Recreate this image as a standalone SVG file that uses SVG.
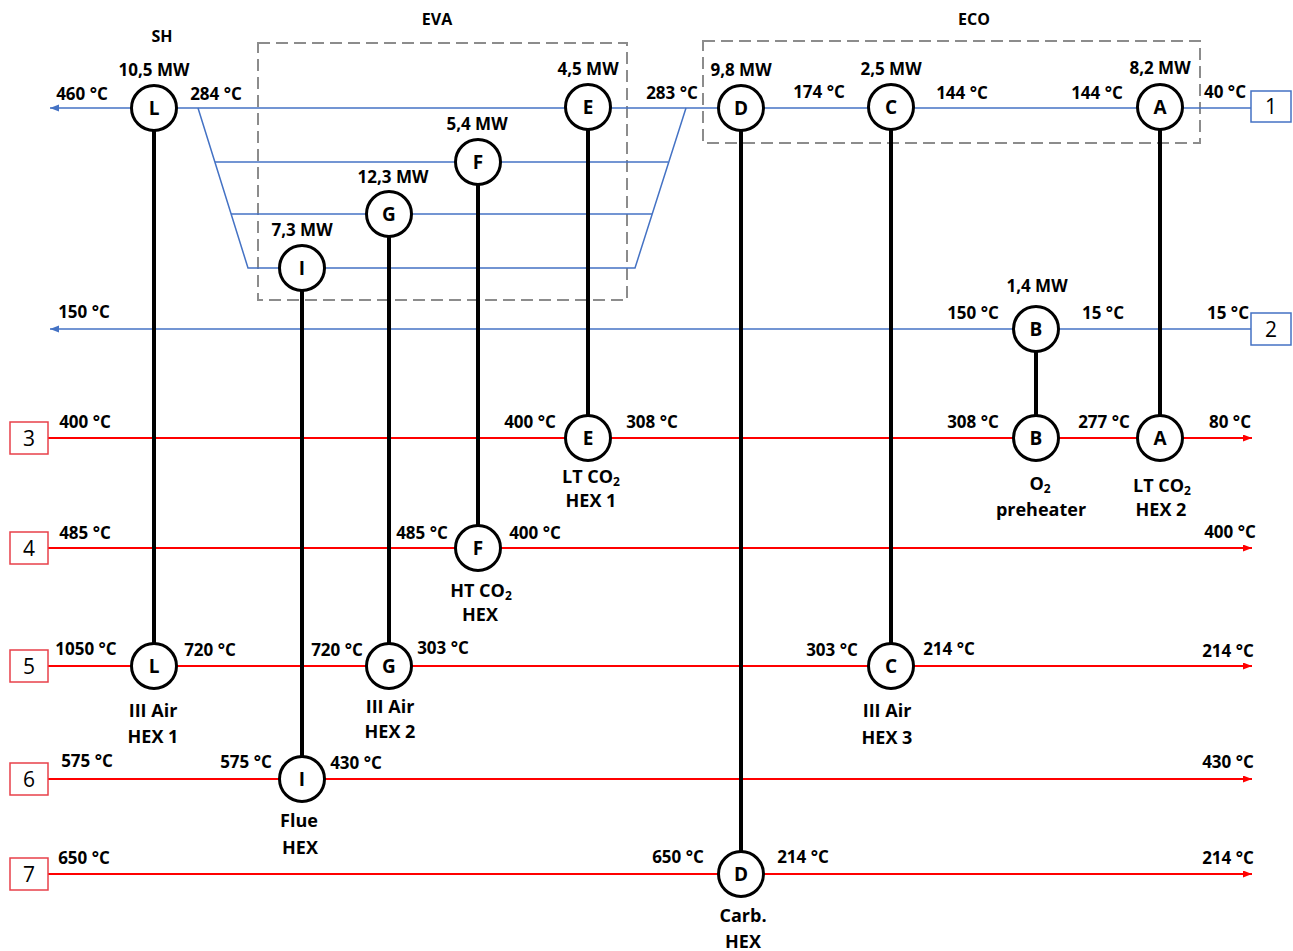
<svg xmlns="http://www.w3.org/2000/svg" width="1293" height="951" viewBox="0 0 1293 951">
<style>
text{font-family:"Open Sans","Liberation Sans",sans-serif;fill:#000;text-anchor:middle}
.t{font-size:17px;font-weight:700}
.h{font-size:16px;font-weight:700}
.n{font-size:18px;font-weight:700}
.c{font-size:19px;font-weight:700}
.b{font-size:21px;font-weight:400}
.blue{stroke:#4472C4;stroke-width:1.5;fill:none}
.red{stroke:#FF0000;stroke-width:2;fill:none}
.bk{stroke:#000;stroke-width:4;fill:none}
.hx{fill:#fff;stroke:#000;stroke-width:3}
.dash{fill:none;stroke:#8C8C8C;stroke-width:2;stroke-dasharray:12 6}
.bbox{fill:#fff;stroke:#4472C4;stroke-width:1.5}
.rbox{fill:#fff;stroke:#E8404A;stroke-width:1.5}
</style>
<defs>
<marker id="ab" markerUnits="userSpaceOnUse" markerWidth="10" markerHeight="8" refX="9" refY="3.5" orient="auto"><path d="M0,0 L9,3.5 L0,7 z" fill="#4472C4"/></marker>
<marker id="ar" markerUnits="userSpaceOnUse" markerWidth="10" markerHeight="8" refX="9" refY="3.5" orient="auto"><path d="M0,0 L9,3.5 L0,7 z" fill="#FF0000"/></marker>
</defs>
<rect width="1293" height="951" fill="#fff"/>

<g id="zones">
<rect class="dash" x="258" y="43" width="369" height="257"/>
<rect class="dash" x="703" y="41" width="497" height="102"/>
<text class="h" x="162" y="42">SH</text>
<text class="h" x="437" y="25">EVA</text>
<text class="h" x="974" y="25">ECO</text>
</g>

<g id="connectors">
<line class="blue" x1="1251" y1="108" x2="50" y2="108" marker-end="url(#ab)"/>
<polyline class="blue" points="198,108 248,268 635,268 686,108"/>
<line class="blue" x1="215" y1="162" x2="668" y2="162"/>
<line class="blue" x1="231" y1="214" x2="652" y2="214"/>
<line class="blue" x1="1251" y1="329" x2="50" y2="329" marker-end="url(#ab)"/>
<line class="red" x1="48" y1="438" x2="1252" y2="438" marker-end="url(#ar)"/>
<line class="red" x1="48" y1="548" x2="1252" y2="548" marker-end="url(#ar)"/>
<line class="red" x1="48" y1="666" x2="1252" y2="666" marker-end="url(#ar)"/>
<line class="red" x1="48" y1="779" x2="1252" y2="779" marker-end="url(#ar)"/>
<line class="red" x1="48" y1="874" x2="1252" y2="874" marker-end="url(#ar)"/>
<line class="bk" x1="154" y1="108" x2="154" y2="666"/>
<line class="bk" x1="588" y1="107" x2="588" y2="438"/>
<line class="bk" x1="478" y1="162" x2="478" y2="548"/>
<line class="bk" x1="389" y1="214" x2="389" y2="666"/>
<line class="bk" x1="302" y1="268" x2="302" y2="779"/>
<line class="bk" x1="741" y1="108" x2="741" y2="874"/>
<line class="bk" x1="891" y1="107" x2="891" y2="666"/>
<line class="bk" x1="1160" y1="107" x2="1160" y2="438"/>
<line class="bk" x1="1036" y1="329" x2="1036" y2="438"/>
</g>

<g id="stream-boxes">
<g id="box1"><rect class="bbox" x="1251" y="91" width="40" height="31"/><text class="b" x="1271" y="114">1</text></g>
<g id="box2"><rect class="bbox" x="1251" y="313" width="40" height="32"/><text class="b" x="1271" y="337">2</text></g>
<g id="box3"><rect class="rbox" x="10" y="422" width="38" height="32"/><text class="b" x="29" y="446">3</text></g>
<g id="box4"><rect class="rbox" x="10" y="532" width="38" height="32"/><text class="b" x="29" y="556">4</text></g>
<g id="box5"><rect class="rbox" x="10" y="650" width="38" height="32"/><text class="b" x="29" y="674">5</text></g>
<g id="box6"><rect class="rbox" x="10" y="763" width="38" height="32"/><text class="b" x="29" y="787">6</text></g>
<g id="box7"><rect class="rbox" x="10" y="858" width="38" height="32"/><text class="b" x="29" y="882">7</text></g>
</g>

<g id="L-top"><circle class="hx" cx="154" cy="108" r="22.5"/><text class="c" x="154" y="115">L</text></g>
<g id="E-top"><circle class="hx" cx="588" cy="107" r="22.5"/><text class="c" x="588" y="114">E</text></g>
<g id="F-top"><circle class="hx" cx="478" cy="162" r="22.5"/><text class="c" x="478" y="169">F</text></g>
<g id="G-top"><circle class="hx" cx="389" cy="214" r="22.5"/><text class="c" x="389" y="221">G</text></g>
<g id="I-top"><circle class="hx" cx="302" cy="268" r="22.5"/><text class="c" x="302" y="275">I</text></g>
<g id="D-top"><circle class="hx" cx="741" cy="108" r="22.5"/><text class="c" x="741" y="115">D</text></g>
<g id="C-top"><circle class="hx" cx="891" cy="107" r="22.5"/><text class="c" x="891" y="114">C</text></g>
<g id="A-top"><circle class="hx" cx="1160" cy="107" r="22.5"/><text class="c" x="1160" y="114">A</text></g>
<g id="B-top"><circle class="hx" cx="1036" cy="329" r="22.5"/><text class="c" x="1036" y="336">B</text></g>

<g id="E-bot"><circle class="hx" cx="588" cy="438" r="22.5"/><text class="c" x="588" y="445">E</text>
<text class="n" x="591" y="483">LT CO<tspan font-size="12" dy="3">2</tspan></text><text class="n" x="591" y="507">HEX 1</text></g>
<g id="B-bot"><circle class="hx" cx="1036" cy="438" r="22.5"/><text class="c" x="1036" y="445">B</text>
<text class="n" x="1040" y="490">O<tspan font-size="12" dy="3">2</tspan></text><text class="n" x="1041" y="516">preheater</text></g>
<g id="A-bot"><circle class="hx" cx="1160" cy="438" r="22.5"/><text class="c" x="1160" y="445">A</text>
<text class="n" x="1162" y="492">LT CO<tspan font-size="12" dy="3">2</tspan></text><text class="n" x="1161" y="516">HEX 2</text></g>
<g id="F-bot"><circle class="hx" cx="478" cy="548" r="22.5"/><text class="c" x="478" y="555">F</text>
<text class="n" x="481" y="597">HT CO<tspan font-size="12" dy="3">2</tspan></text><text class="n" x="480" y="621">HEX</text></g>
<g id="L-bot"><circle class="hx" cx="154" cy="666" r="22.5"/><text class="c" x="154" y="673">L</text>
<text class="n" x="153" y="717">III Air</text><text class="n" x="153" y="743">HEX 1</text></g>
<g id="G-bot"><circle class="hx" cx="389" cy="666" r="22.5"/><text class="c" x="389" y="673">G</text>
<text class="n" x="390" y="713">III Air</text><text class="n" x="390" y="738">HEX 2</text></g>
<g id="C-bot"><circle class="hx" cx="891" cy="666" r="22.5"/><text class="c" x="891" y="673">C</text>
<text class="n" x="887" y="717">III Air</text><text class="n" x="887" y="744">HEX 3</text></g>
<g id="I-bot"><circle class="hx" cx="302" cy="779" r="22.5"/><text class="c" x="302" y="786">I</text>
<text class="n" x="299" y="827">Flue</text><text class="n" x="300" y="854">HEX</text></g>
<g id="D-bot"><circle class="hx" cx="741" cy="874" r="22.5"/><text class="c" x="741" y="881">D</text>
<text class="n" x="743" y="922">Carb.</text><text class="n" x="743" y="948">HEX</text></g>

<g id="labels">
<text class="t" x="154" y="76">10,5 MW</text>
<text class="t" x="82" y="100">460 °C</text>
<text class="t" x="216" y="100">284 °C</text>
<text class="t" x="393" y="183">12,3 MW</text>
<text class="t" x="302" y="236">7,3 MW</text>
<text class="t" x="588" y="75">4,5 MW</text>
<text class="t" x="477" y="130">5,4 MW</text>
<text class="t" x="672" y="99">283 °C</text>
<text class="t" x="741" y="76">9,8 MW</text>
<text class="t" x="819" y="98">174 °C</text>
<text class="t" x="891" y="75">2,5 MW</text>
<text class="t" x="962" y="99">144 °C</text>
<text class="t" x="1097" y="99">144 °C</text>
<text class="t" x="1160" y="74">8,2 MW</text>
<text class="t" x="1225" y="98">40 °C</text>
<text class="t" x="1037" y="292">1,4 MW</text>
<text class="t" x="84" y="318">150 °C</text>
<text class="t" x="973" y="319">150 °C</text>
<text class="t" x="1103" y="319">15 °C</text>
<text class="t" x="1228" y="319">15 °C</text>
<text class="t" x="85" y="428">400 °C</text>
<text class="t" x="530" y="428">400 °C</text>
<text class="t" x="652" y="428">308 °C</text>
<text class="t" x="973" y="428">308 °C</text>
<text class="t" x="1104" y="428">277 °C</text>
<text class="t" x="1230" y="428">80 °C</text>
<text class="t" x="85" y="539">485 °C</text>
<text class="t" x="422" y="539">485 °C</text>
<text class="t" x="535" y="539">400 °C</text>
<text class="t" x="1230" y="538">400 °C</text>
<text class="t" x="86" y="655">1050 °C</text>
<text class="t" x="210" y="656">720 °C</text>
<text class="t" x="337" y="656">720 °C</text>
<text class="t" x="443" y="654">303 °C</text>
<text class="t" x="832" y="656">303 °C</text>
<text class="t" x="949" y="655">214 °C</text>
<text class="t" x="1228" y="657">214 °C</text>
<text class="t" x="87" y="767">575 °C</text>
<text class="t" x="246" y="768">575 °C</text>
<text class="t" x="356" y="769">430 °C</text>
<text class="t" x="1228" y="768">430 °C</text>
<text class="t" x="84" y="864">650 °C</text>
<text class="t" x="678" y="863">650 °C</text>
<text class="t" x="803" y="863">214 °C</text>
<text class="t" x="1228" y="864">214 °C</text>
</g>
</svg>
